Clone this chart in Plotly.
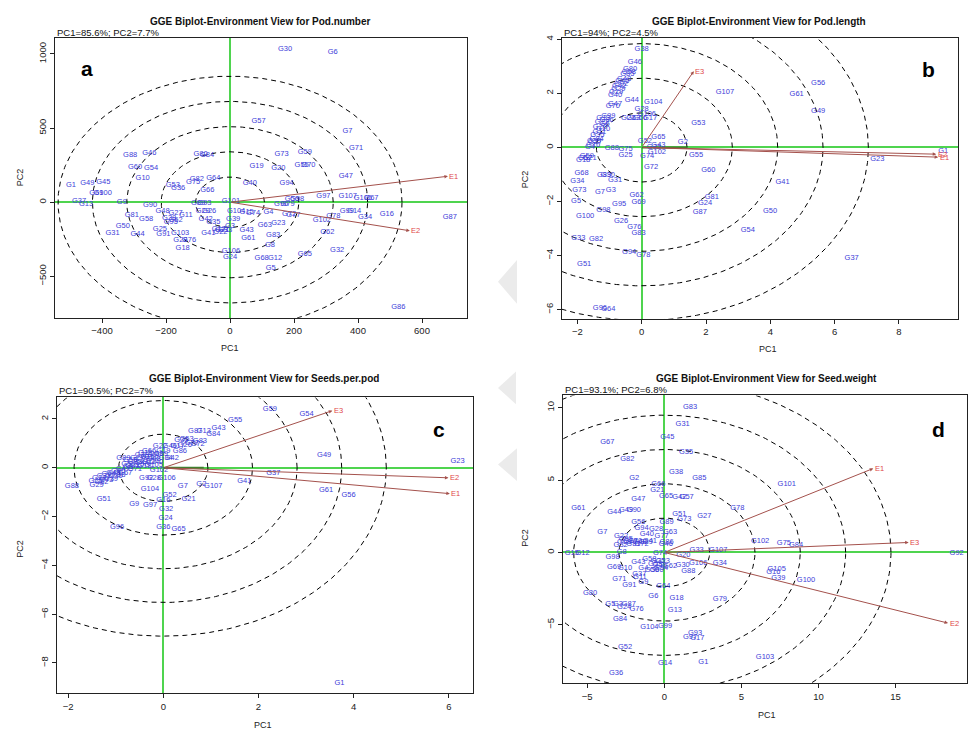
import numpy as np
import plotly.graph_objects as go

W, H = 968, 733

# ---------------- Panel a : Pod.number ----------------
a_names = ["G1", "G49", "G45", "G69", "G100", "G37", "G13", "G9", "G90", "G88",
           "G46", "G60", "G54", "G10", "G81", "G58", "G50", "G31", "G44", "G48",
           "G27", "G11", "G38", "G52", "G95", "G25", "G91", "G103", "G28", "G76",
           "G18", "G53", "G36", "G82", "G75", "G64", "G66", "G80", "G84", "G89",
           "G93", "G29", "G26", "G42", "G35", "G41", "G17", "G21", "G33", "G22",
           "G106", "G24", "G73", "G59", "G19", "G20", "G55", "G70", "G40", "G94",
           "G56", "G98", "G97", "G101", "G4", "G96", "G79", "G77", "G72", "G15",
           "G74", "G104", "G39", "G3", "G43", "G63", "G23", "G61", "G83", "G8",
           "G68", "G12", "G65", "G78", "G102", "G30", "G6", "G57", "G7", "G71",
           "G47", "G107", "G105", "G67", "G99", "G14", "G34", "G16", "G87", "G62",
           "G32", "G86", "G5"]
a_pc1 = [-497, -446, -396, -418, -398, -472, -450, -338, -250, -312,
         -252, -297, -247, -273, -307, -262, -335, -367, -289, -211,
         -170, -138, -190, -170, -185, -219, -208, -156, -155, -128,
         -148, -179, -162, -104, -115, -52, -71, -92, -72, -100,
         -80, -85, -65, -76, -52, -68, -35, -25, -15, -30,
         3, 0, 161, 234, 83, 151, 224, 245, 62, 177,
         193, 210, 292, 3, 120, 160, 180, 198, 185, 52,
         72, 19, 10, 0, 52, 109, 151, 57, 135, 125,
         99, 141, 234, 323, 287, 172, 321, 89, 367, 394,
         362, 368, 415, 442, 365, 388, 422, 490, 687, 304,
         335, 526, 127]
a_pc2 = [116, 130, 134, 58, 62, 5, -11, 0, -22, 315,
         331, 235, 231, 163, -90, -116, -164, -206, -213, -63,
         -74, -90, -110, -118, -135, -179, -213, -206, -253, -253,
         -309, 112, 94, 157, 134, 163, 83, 325, 318, -7,
         -7, -63, -63, -116, -134, -206, -180, -190, -186, -200,
         -331, -370, 325, 341, 240, 228, 253, 248, 130, 130,
         22, 18, 40, 10, -67, -11, -15, -85, -82, -67,
         -74, -61, -112, -163, -186, -157, -141, -246, -224, -291,
         -381, -381, -354, -94, -119, 1030, 1015, 544, 482, 365,
         179, 40, 29, 29, -63, -63, -101, -78, -101, -202,
         -325, -710, -448]
a_env = ["E1", "E2"]
a_env_pc1 = [681, 562]
a_env_pc2 = [175, -193]
a_ring_x, a_ring_y = 107.5, 170.0

# ---------------- Panel b : Pod.length ----------------
b_names = ["G38", "G46", "G80", "G58", "G85", "G48", "G45", "G92", "G42", "G29",
           "G19", "G40", "G47", "G70", "G44", "G104", "G28", "G63", "G66", "G106",
           "G17", "G22", "G99", "G86", "G13", "G12", "G20", "G11", "G35", "G6",
           "G10", "G84", "G27", "G16", "G39", "G4", "G88", "G75", "G25", "G59",
           "G57", "G18", "G21", "G68", "G34", "G73", "G5", "G100", "G33", "G82",
           "G51", "G96", "G64", "G89", "G30", "G31", "G7", "G3", "G62", "G95",
           "G69", "G98", "G26", "G76", "G83", "G94", "G78", "G72", "G74", "G52",
           "G65", "G43", "G102", "G32", "G56", "G61", "G49", "G107", "G53", "G2",
           "G55", "G60", "G41", "G81", "G24", "G87", "G50", "G54", "G37", "G23",
           "G1"]
b_pc1 = [0.00, -0.21, -0.36, -0.40, -0.45, -0.55, -0.60, -0.64, -0.70, -0.73,
         -0.80, -0.83, -0.83, -0.90, -0.31, 0.36, 0.00, -0.26, -0.05, 0.16,
         0.26, -0.42, -1.04, -1.09, -1.19, -1.24, -1.30, -1.32, -1.38, -1.15,
         -1.20, -1.40, -1.45, -1.51, -1.48, -1.61, -0.93, -0.50, -0.50, -1.71,
         -1.76, -1.82, -1.62, -1.87, -2.00, -1.94, -2.04, -1.76, -1.97, -1.42,
         -1.79, -1.30, -1.04, -1.17, -1.05, -0.83, -1.30, -0.96, -0.16, -0.70,
         -0.10, -1.19, -0.64, -0.23, -0.10, -0.39, 0.05, 0.29, 0.17, 0.10,
         0.52, 0.52, 0.47, 0.38, 5.49, 4.82, 5.49, 2.59, 1.76, 1.28,
         1.69, 2.07, 4.38, 2.18, 1.97, 1.81, 3.99, 3.30, 6.53, 7.33,
         9.38]
b_pc2 = [3.62, 3.16, 2.90, 2.80, 2.72, 2.53, 2.45, 2.35, 2.25, 2.17,
         2.05, 1.93, 1.60, 1.51, 1.76, 1.68, 1.41, 1.07, 1.07, 1.23,
         1.07, 1.07, 1.15, 1.00, 1.10, 0.92, 0.74, 0.58, 0.45, 0.85,
         0.68, 0.31, 0.18, 0.08, 0.24, 0.00, -0.04, -0.06, -0.28, -0.31,
         -0.41, -0.47, -0.38, -0.95, -1.23, -1.57, -1.99, -2.55, -3.35, -3.41,
         -4.33, -5.96, -5.98, -1.04, -1.04, -1.20, -1.66, -1.57, -1.78, -2.09,
         -2.03, -2.33, -2.73, -2.95, -3.17, -3.87, -3.97, -0.74, -0.31, 0.25,
         0.37, 0.08, -0.16, 0.02, 2.36, 1.96, 1.35, 2.03, 0.88, 0.18,
         -0.28, -0.84, -1.29, -1.84, -2.06, -2.39, -2.36, -3.05, -4.09, -0.45,
         -0.12]
b_env = ["E1", "E2", "E3"]
b_env_pc1 = [9.22, 9.16, 1.62]
b_env_pc2 = [-0.36, -0.25, 2.82]
b_ring_x, b_ring_y = 1.41, 1.28
b_aec_end = 1.41

# ---------------- Panel c : Seeds.per.pod ----------------
c_names = ["G59", "G54", "G55", "G49", "G23", "G37", "G41", "G61", "G56", "G1",
           "G88", "G51", "G96", "G9", "G97", "G104", "G92", "G28", "G106", "G102",
           "G7", "G2", "G107", "G52", "G16", "G21", "G32", "G24", "G36", "G65",
           "G43", "G13", "G87", "G84", "G53", "G77", "G83", "G35", "G72", "G22",
           "G46", "G17", "G26", "G19", "G86", "G69", "G42", "G34", "G89", "G15",
           "G11", "G98", "G27", "G33", "G20", "G40", "G12", "G44", "G10", "G81",
           "G3", "G47", "G50", "G45", "G64", "G31", "G14", "G25", "G29", "G62",
           "G39", "G8", "G30", "G67", "G71", "G18", "G58", "G5", "G60", "G66",
           "G63", "G38", "G105", "G73"]
c_pc1 = [2.24, 3.01, 1.51, 3.38, 6.18, 2.31, 1.70, 3.42, 3.89, 3.70,
         -1.92, -1.25, -0.97, -0.61, -0.28, -0.28, -0.36, -0.20, 0.07, -0.09,
         0.41, 0.80, 1.05, 0.13, 0.00, 0.53, 0.06, 0.05, 0.00, 0.32,
         1.16, 0.85, 0.67, 1.05, 0.49, 0.60, 0.77, 0.38, 0.72, -0.07,
         0.14, 0.30, 0.45, 0.00, 0.35, -0.05, 0.18, 0.05, -0.84, -0.38,
         -0.34, -0.20, -0.55, -0.60, -0.48, -0.15, -0.30, -0.45, -0.55, -0.65,
         -0.75, -0.85, -0.95, -1.05, -1.15, -1.25, -1.35, -1.42, -1.40, -1.30,
         -1.10, -0.90, -1.00, -0.80, -0.60, -0.40, -0.70, -0.78, -0.25, -0.30,
         -0.15, -0.45, -0.20, -1.20]
c_pc2 = [2.41, 2.22, 1.95, 0.52, 0.27, -0.20, -0.54, -0.91, -1.11, -8.84,
         -0.75, -1.29, -2.42, -1.49, -1.52, -0.88, -0.43, -0.43, -0.41, -0.09,
         -0.75, -0.68, -0.75, -1.13, -1.33, -1.29, -1.70, -2.07, -2.45, -2.51,
         1.63, 1.50, 1.50, 1.36, 1.16, 1.02, 1.09, 1.12, 0.98, 0.89,
         0.89, 0.90, 0.92, 0.68, 0.68, 0.58, 0.38, 0.38, 0.38, 0.60,
         0.45, 0.36, 0.40, 0.25, 0.30, 0.25, 0.22, 0.18, 0.12, 0.08,
         0.02, -0.05, -0.12, -0.20, -0.27, -0.35, -0.42, -0.55, -0.71, -0.60,
         -0.45, -0.30, -0.35, -0.20, -0.05, 0.05, 0.30, 0.15, 0.45, 0.70,
         0.55, 0.50, 0.10, -0.50]
c_env = ["E1", "E2", "E3"]
c_env_pc1 = [6.02, 5.99, 3.55]
c_env_pc2 = [-1.06, -0.41, 2.34]
c_ring_x, c_ring_y = 0.937, 1.38
c_aec_end = 0.85

# ---------------- Panel d : Seed.weight ----------------
d_names = ["G101", "G78", "G102", "G75", "G84", "G107", "G34", "G105", "G16", "G39",
           "G100", "G79", "G103", "G92", "G83", "G31", "G45", "G67", "G35", "G82",
           "G38", "G85", "G2", "G66", "G21", "G65", "G42", "G57", "G47", "G61",
           "G44", "G49", "G90", "G51", "G73", "G27", "G56", "G89", "G7", "G94",
           "G28", "G63", "G77", "G40", "G22", "G95", "G19", "G70", "G48", "G68",
           "G81", "G29", "G41", "G72", "G32", "G86", "G46", "G33", "G12", "G15",
           "G8", "G98", "G74", "G20", "G69", "G10", "G43", "G58", "G4", "G53",
           "G59", "G60", "G62", "G54", "G50", "G23", "G25", "G30", "G88", "G106",
           "G37", "G11", "G71", "G91", "G9", "G64", "G80", "G6", "G18", "G5",
           "G3", "G24", "G87", "G76", "G13", "G84", "G104", "G99", "G93", "G97",
           "G17", "G52", "G14", "G1", "G36"]
d_pc1 = [7.94, 4.73, 6.21, 7.76, 8.54, 3.50, 3.61, 7.29, 7.07, 7.39,
         9.19, 3.61, 6.53, 18.96, 1.67, 1.19, 0.19, -3.70, 1.41, -2.40,
         0.76, 2.27, -1.95, -0.39, -0.45, 0.11, 0.97, 1.45, -1.69, -5.58,
         -3.24, -2.48, -1.97, 0.97, 1.30, 2.59, -1.69, 0.15, -4.02, -1.47,
         -0.54, 0.37, -0.17, -1.14, -2.80, -2.50, -2.20, -1.90, -1.60, -2.60,
         -2.00, -1.20, -0.93, -1.47, -2.83, 0.15, 0.10, 2.10, -5.30, -6.00,
         -2.76, -3.35, -0.28, 1.23, -3.26, -2.55, -1.69, -0.97, -1.36, -0.60,
         -0.30, -0.50, 0.37, -0.20, -0.80, -0.10, -0.40, 1.19, 1.56, 2.20,
         -1.62, -1.58, -2.92, -2.27, -1.36, -0.06, -4.82, -0.71, 0.80, -3.50,
         -3.00, -2.60, -2.30, -1.80, 0.69, -2.87, -0.97, 0.05, 1.99, 1.67,
         2.14, -2.55, 0.05, 2.53, -3.13]
d_pc2 = [4.70, 3.05, 0.76, 0.62, 0.53, 0.19, -0.76, -1.14, -1.33, -1.76,
         -1.88, -3.21, -7.26, -0.06, 10.02, 8.87, 7.96, 7.61, 6.95, 6.47,
         5.57, 5.14, 5.14, 4.70, 4.29, 3.90, 3.83, 3.85, 3.67, 3.03,
         2.75, 2.92, 2.92, 2.68, 2.30, 2.48, 2.06, 2.06, 1.38, 1.65,
         1.58, 1.38, 1.10, 1.26, 1.10, 0.90, 0.80, 0.75, 0.70, 0.70,
         0.60, 0.70, 0.80, 0.58, 0.53, 0.69, 0.60, 0.19, -0.06, -0.06,
         0.00, -0.34, -0.07, -0.18, -1.03, -1.07, -0.69, -0.46, -1.07, -0.80,
         -0.90, -1.20, -0.96, -1.10, -1.20, -0.60, -0.60, -0.91, -1.26, -0.76,
         -1.49, -1.72, -1.83, -2.24, -2.06, -2.36, -2.82, -3.05, -3.16, -3.60,
         -3.60, -3.80, -3.55, -3.90, -4.01, -4.58, -5.16, -5.11, -5.57, -5.85,
         -5.91, -6.53, -7.63, -7.56, -8.36]
d_env = ["E1", "E2", "E3"]
d_env_pc1 = [13.55, 18.40, 15.85]
d_env_pc2 = [5.80, -4.88, 0.69]
d_ring_x, d_ring_y = 2.94, 2.37

# ---------------- text ----------------
titles = ["GGE Biplot-Environment View for Pod.number",
          "GGE Biplot-Environment View for Pod.length",
          "GGE Biplot-Environment View for Seeds.per.pod",
          "GGE Biplot-Environment View for Seed.weight"]
subtitles = ["PC1=85.6%; PC2=7.7%", "PC1=94%; PC2=4.5%",
             "PC1=90.5%; PC2=7%", "PC1=93.1%; PC2=6.8%"]
letters = ["a", "b", "c", "d"]
a_xticks = [-400, -200, 0, 200, 400, 600]; a_yticks = [-500, 0, 500, 1000]
b_xticks = [-2, 0, 2, 4, 6, 8];            b_yticks = [-6, -4, -2, 0, 2, 4]
c_xticks = [-2, 0, 2, 4, 6];               c_yticks = [-8, -6, -4, -2, 0, 2]
d_xticks = [-5, 0, 5, 10, 15];             d_yticks = [-5, 0, 5, 10]

# ---------------- layout geometry (pixels) ----------------
panels = [
    dict(names=a_names, x=a_pc1, y=a_pc2, env=a_env, ex=a_env_pc1, ey=a_env_pc2,
         rx=a_ring_x, ry=a_ring_y, aec=None, frame=(55, 467, 35, 316),
         xr=(-546.9, 740.6), yr=(-779.6, 1108.9), xt=a_xticks, yt=a_yticks,
         title_xy=(260, 19), sub_xy=(55, 30), let_xy=(87, 66),
         pc1_xy=(230, 346), pc2_xy=(20, 175)),
    dict(names=b_names, x=b_pc1, y=b_pc2, env=b_env, ex=b_env_pc1, ey=b_env_pc2,
         rx=b_ring_x, ry=b_ring_y, aec=b_aec_end, frame=(562, 958, 35, 317),
         xr=(-2.479, 9.838), yr=(-6.335, 4.052), xt=b_xticks, yt=b_yticks,
         title_xy=(759, 19), sub_xy=(562, 30), let_xy=(928, 67),
         pc1_xy=(768, 347), pc2_xy=(525, 177)),
    dict(names=c_names, x=c_pc1, y=c_pc2, env=c_env, ex=c_env_pc1, ey=c_env_pc2,
         rx=c_ring_x, ry=c_ring_y, aec=c_aec_end, frame=(57, 473, 396, 693),
         xr=(-2.233, 6.506), yr=(-9.237, 2.886), xt=c_xticks, yt=c_yticks,
         title_xy=(264, 377), sub_xy=(57, 389), let_xy=(439, 428),
         pc1_xy=(263, 725), pc2_xy=(20, 548)),
    dict(names=d_names, x=d_pc1, y=d_pc2, env=d_env, ex=d_env_pc1, ey=d_env_pc2,
         rx=d_ring_x, ry=d_ring_y, aec=None, frame=(563, 967, 394, 683),
         xr=(-6.569, 19.63), yr=(-9.03, 10.846), xt=d_xticks, yt=d_yticks,
         title_xy=(766, 377), sub_xy=(563, 388), let_xy=(938, 428),
         pc1_xy=(767, 715), pc2_xy=(525, 537)),
]

FONT = "Liberation Sans, Arial, sans-serif"
GREEN = "#4fd44f"
ARROW = "#a4514c"
GENO = "#3d3dd9"
ENVC = "#e04848"

fig = go.Figure()
annotations = []
layout_axes = {}
theta = np.linspace(0, 2 * np.pi, 361)


def px(xp):
    return xp / W


def py(yp):
    return 1 - yp / H


for i, p in enumerate(panels):
    sfx = "" if i == 0 else str(i + 1)
    xref, yref = "x" + sfx, "y" + sfx
    # concentric rings
    rxs, rys = [], []
    for k in range(1, 6):
        rxs += list(k * p["rx"] * np.cos(theta)) + [None]
        rys += list(k * p["ry"] * np.sin(theta)) + [None]
    fig.add_trace(go.Scatter(x=rxs, y=rys, mode="lines", xaxis=xref, yaxis=yref,
                             line=dict(color="black", width=1, dash="5px,4px"),
                             hoverinfo="skip"))
    if p["aec"] is not None:
        fig.add_trace(go.Scatter(x=[0, p["aec"]], y=[0, 0], mode="lines",
                                 xaxis=xref, yaxis=yref,
                                 line=dict(color="#3f7f2f", width=2), hoverinfo="skip"))
    # genotype labels
    fig.add_trace(go.Scatter(x=p["x"], y=p["y"], text=p["names"], mode="text",
                             xaxis=xref, yaxis=yref,
                             textfont=dict(family=FONT, size=7.5, color=GENO)))
    # environment vectors and their labels
    for en, ex, ey in zip(p["env"], p["ex"], p["ey"]):
        annotations.append(dict(xref=xref, yref=yref, axref=xref, ayref=yref,
                                x=ex, y=ey, ax=0, ay=0, text="", showarrow=True,
                                arrowhead=2, arrowsize=0.7, arrowwidth=1,
                                arrowcolor=ARROW, standoff=0))
        annotations.append(dict(xref=xref, yref=yref, x=ex, y=ey, text=en,
                                showarrow=False, xanchor="center", yanchor="middle",
                                xshift=6, font=dict(family=FONT, size=7.5, color=ENVC)))
    l, r, t, b = p["frame"]
    common = dict(showgrid=False, showline=True, mirror=True, linecolor="#222",
                  linewidth=1, ticks="outside", ticklen=4, tickcolor="#222",
                  zeroline=True, zerolinecolor=GREEN, zerolinewidth=1.5,
                  tickfont=dict(family=FONT, size=9.5, color="#222"), fixedrange=True)
    layout_axes["xaxis" + sfx] = dict(common, domain=[px(l), px(r)], range=list(p["xr"]),
                                      tickvals=p["xt"], anchor=yref)
    layout_axes["yaxis" + sfx] = dict(common, domain=[py(b), py(t)], range=list(p["yr"]),
                                      tickvals=p["yt"], anchor=xref, tickangle=-90)
    # texts
    annotations.append(dict(xref="paper", yref="paper", x=px(p["title_xy"][0]),
                            y=py(p["title_xy"][1]), text="<b>" + titles[i] + "</b>",
                            showarrow=False, xanchor="center", yanchor="middle",
                            font=dict(family=FONT, size=10, color="#111")))
    annotations.append(dict(xref="paper", yref="paper", x=px(p["sub_xy"][0]),
                            y=py(p["sub_xy"][1]), text=subtitles[i],
                            showarrow=False, xanchor="left", yanchor="middle",
                            font=dict(family=FONT, size=9.5, color="#111")))
    annotations.append(dict(xref="paper", yref="paper", x=px(p["let_xy"][0]),
                            y=py(p["let_xy"][1]), text="<b>" + letters[i] + "</b>",
                            showarrow=False, xanchor="center", yanchor="middle",
                            font=dict(family="Liberation Sans Narrow, Liberation Sans", size=21,
                                      color="#000")))
    annotations.append(dict(xref="paper", yref="paper", x=px(p["pc1_xy"][0]),
                            y=py(p["pc1_xy"][1]), text="PC1", showarrow=False,
                            xanchor="center", yanchor="middle",
                            font=dict(family=FONT, size=9, color="#222")))
    annotations.append(dict(xref="paper", yref="paper", x=px(p["pc2_xy"][0]),
                            y=py(p["pc2_xy"][1]), text="PC2", showarrow=False,
                            xanchor="center", yanchor="middle", textangle=-90,
                            font=dict(family=FONT, size=9, color="#222")))

# faint watermark chevrons between the panels
shapes = []
for (x0, x1, y0, y1) in [(498, 517, 258, 302), (498, 516, 370, 403), (498, 517, 447, 480)]:
    ym = (y0 + y1) / 2
    path = "M {} {} L {} {} L {} {} Z".format(px(x0), py(ym), px(x1), py(y0), px(x1), py(y1))
    shapes.append(dict(type="path", xref="paper", yref="paper", path=path,
                       fillcolor="#ebebeb", line=dict(width=0), layer="below"))

fig.update_layout(width=W, height=H, margin=dict(l=0, r=0, t=0, b=0),
                  paper_bgcolor="white", plot_bgcolor="white", showlegend=False,
                  annotations=annotations, shapes=shapes, **layout_axes)
fig.write_html("out.html",
               config={"displayModeBar": False},
               post_script="document.body.style.margin='0';"
                           "document.body.style.padding='0';"
                           "document.body.style.overflow='hidden';")
